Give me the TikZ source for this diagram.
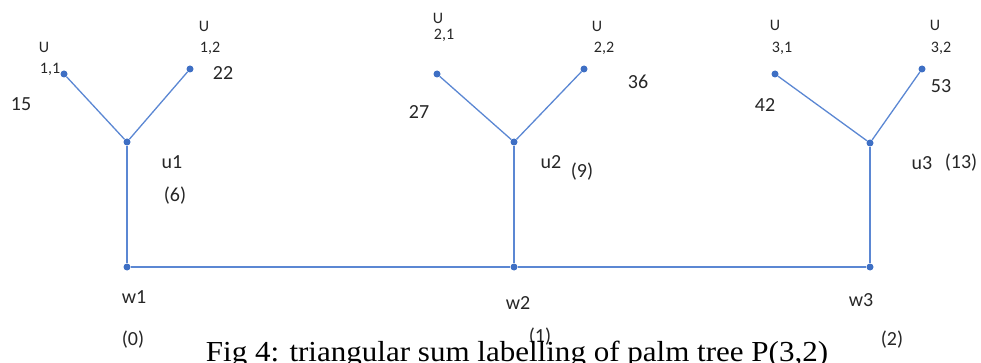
\documentclass[tikz,border=0pt]{standalone}
\usepackage{fontspec}
\setmainfont{Carlito}
\newfontfamily\capfont{Liberation Serif}
\definecolor{lineblue}{HTML}{5B87D3}
\definecolor{dotblue}{HTML}{3E6FC4}
\begin{document}
\begin{tikzpicture}[x=1pt,y=-1pt,
  vtx/.style={circle,fill=dotblue,inner sep=0pt,minimum size=7pt},
  edge/.style={draw=lineblue,line width=1.3pt},
  lbl/.style={inner sep=0pt,font=\fontsize{20}{22}\selectfont,text=black!85},
  sub/.style={inner sep=0pt,font=\fontsize{16}{17}\selectfont,text=black!85,align=center}]
\useasboundingbox (0,0) rectangle (981,363);
% vertices
\node[vtx] (u11) at (64,74) {};
\node[vtx] (u12) at (190,69) {};
\node[vtx] (u1) at (127,142) {};
\node[vtx] (w1) at (127,267) {};
\node[vtx] (u21) at (437,74) {};
\node[vtx] (u22) at (584,69) {};
\node[vtx] (u2) at (514,142) {};
\node[vtx] (w2) at (514,267) {};
\node[vtx] (u31) at (775,74) {};
\node[vtx] (u32) at (922,69) {};
\node[vtx] (u3) at (870,143) {};
\node[vtx] (w3) at (870,267) {};
% edges
\draw[edge] (u11) -- (u1);
\draw[edge] (u12) -- (u1);
\draw[edge] (u1) -- (w1);
\draw[edge] (u21) -- (u2);
\draw[edge] (u22) -- (u2);
\draw[edge] (u2) -- (w2);
\draw[edge] (u31) -- (u3);
\draw[edge] (u32) -- (u3);
\draw[edge] (u3) -- (w3);
\draw[edge] (w1) -- (w2);
\draw[edge] (w2) -- (w3);
% leaf names
\node[sub] (n11a) at (44,47) {U};
\node[sub] (n11b) at (50,69) {1,1};
\node[sub] (n12a) at (204,26) {U};
\node[sub] (n12b) at (210,48) {1,2};
\node[sub] (n21a) at (438,18) {U};
\node[sub] (n21b) at (444,35) {2,1};
\node[sub] (n22a) at (597,26) {U};
\node[sub] (n22b) at (604,48) {2,2};
\node[sub] (n31a) at (775,25) {U};
\node[sub] (n31b) at (782,48) {3,1};
\node[sub] (n32a) at (935,25) {U};
\node[sub] (n32b) at (941,48) {3,2};
% edge labels
\node[lbl] (l15) at (21,104) {15};
\node[lbl] (l22) at (223,73) {22};
\node[lbl] (l27) at (419,112) {27};
\node[lbl] (l36) at (638,82) {36};
\node[lbl] (l42) at (765,105) {42};
\node[lbl] (l53) at (941,86) {53};
% inner labels
\node[lbl] (tu1) at (172,162) {u1};
\node[lbl] (vu1) at (175,196) {(6)};
\node[lbl] (tu2) at (551,162) {u2};
\node[lbl] (vu2) at (582,172) {(9)};
\node[lbl] (tu3) at (922,163) {u3};
\node[lbl] (vu3) at (961,163) {(13)};
\node[lbl] (tw1) at (134,297) {w1};
\node[lbl] (vw1) at (133,340) {(0)};
\node[lbl] (tw2) at (518,303) {w2};
\node[lbl] (vw2) at (540,337) {(1)};
\node[lbl] (tw3) at (861,300) {w3};
\node[lbl] (vw3) at (892,340) {(2)};
% caption
\node[inner sep=0pt,anchor=base,xscale=1.07,font=\capfont\fontsize{29}{31}\selectfont] (cap) at (517,361) {Fig 4: triangular sum labelling of palm tree P(3,2)};
\end{tikzpicture}
\end{document}
